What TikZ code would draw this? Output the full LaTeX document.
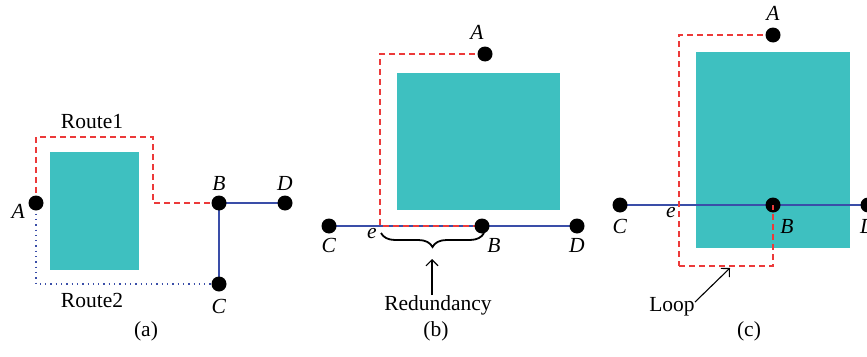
\documentclass[tikz,border=0pt]{standalone}
\usepackage{fontspec}
\setmainfont{Liberation Serif}
\usetikzlibrary{backgrounds,decorations.pathreplacing,arrows.meta}
\definecolor{obstacle}{RGB}{62,192,192}
\definecolor{routered}{RGB}{236,58,58}
\definecolor{linkblue}{RGB}{58,78,168}

\begin{document}
\begin{tikzpicture}[x=1pt,y=-1pt,
    every node/.style={font=\fontsize{21.5}{25}\selectfont},
    dot/.style={circle, fill=black, inner sep=0pt, minimum size=15pt},
    obst/.style={fill=obstacle},
    route/.style={routered, line width=1.2pt, dash pattern=on 6pt off 4pt},
    link/.style={linkblue, line width=1.2pt},
    detour/.style={linkblue, line width=1.3pt, dash pattern=on 1.3pt off 4pt},
    brace/.style={decorate, decoration={brace, mirror, amplitude=14pt}, line width=1.8pt},
    pointer/.style={-{Straight Barb[length=6pt, width=12pt]}, line width=1.1pt}
]
    \useasboundingbox (0,0) rectangle (867,356);

    % (a) two routes round the obstacle
    \node[dot, label={[label distance=0pt, yshift=-8pt]left:\textit{A}}] (aA) at (36,203) {};
    \node[dot, label={[label distance=1pt]above:\textit{B}}] (aB) at (219,203) {};
    \node[dot, label={[label distance=1pt]above:\textit{D}}] (aD) at (285,203) {};
    \node[dot, label={[label distance=4pt]below:\textit{C}}] (aC) at (219,284) {};
    \coordinate (a1) at (153,137);
    \node (route1) at (92,122) {Route1};
    \node (route2) at (92,300) {Route2};
    \node (capa) at (146,331) {(a)};
    \begin{pgfonlayer}{background}
        \fill[obst] (50,152) rectangle (139,270);
        \draw[link] (aC.center) -- (aB.center) -- (aD.center);
        \draw[route] (aA.center) |- (a1) |- (aB.center);
        \draw[detour] (aA.center) |- (aC.center);
    \end{pgfonlayer}

    % (b) redundancy
    \node[dot, label={[label distance=3pt, xshift=-8pt]above:\textit{A}}] (bA) at (485,54) {};
    \node[dot, label={[label distance=1pt]below:\textit{C}}] (bC) at (329,226) {};
    \node[dot, label={[label distance=1pt, xshift=12pt]below:\textit{B}}] (bB) at (482,226) {};
    \node[dot, label={[label distance=1pt]below:\textit{D}}] (bD) at (577,226) {};
    \coordinate (be) at (380,226);
    \node (elb) at (372,234) {\textit{e}};
    \node (redund) at (438,305) {Redundancy};
    \node (capb) at (436,331) {(b)};
    \draw[brace] (381,233) -- (484,233);
    \draw[pointer] (432,295) -- (432,259);
    \begin{pgfonlayer}{background}
        \fill[obst] (397,73) rectangle (560,210);
        \draw[link] (bC.center) -- (bD.center);
        \draw[route] (bA.center) -| (be) -- (bB.center);
    \end{pgfonlayer}

    % (c) loop
    \node[dot, label={[label distance=3pt]above:\textit{A}}] (cA) at (773,35) {};
    \node[dot, label={[label distance=3pt]below:\textit{C}}] (cC) at (620,205) {};
    \node[dot, label={[label distance=3pt, xshift=14pt]below:\textit{B}}] (cB) at (773,205) {};
    \node[dot, label={[label distance=3pt]below:\textit{D}}] (cD) at (868,205) {};
    \coordinate (c1) at (679,266);
    \node (elc) at (671,213) {\textit{e}};
    \node (loop) at (672,307) {Loop};
    \node (capc) at (749,331) {(c)};
    \draw[pointer] (695,302) -- (730,268);
    \begin{pgfonlayer}{background}
        \fill[obst] (696,52) rectangle (850,248);
        \draw[link] (cC.center) -- (cD.center);
        \draw[route] (cA.center) -| (c1);
    \end{pgfonlayer}
    \draw[route] (c1) -| (cB.center);
\end{tikzpicture}
\end{document}
